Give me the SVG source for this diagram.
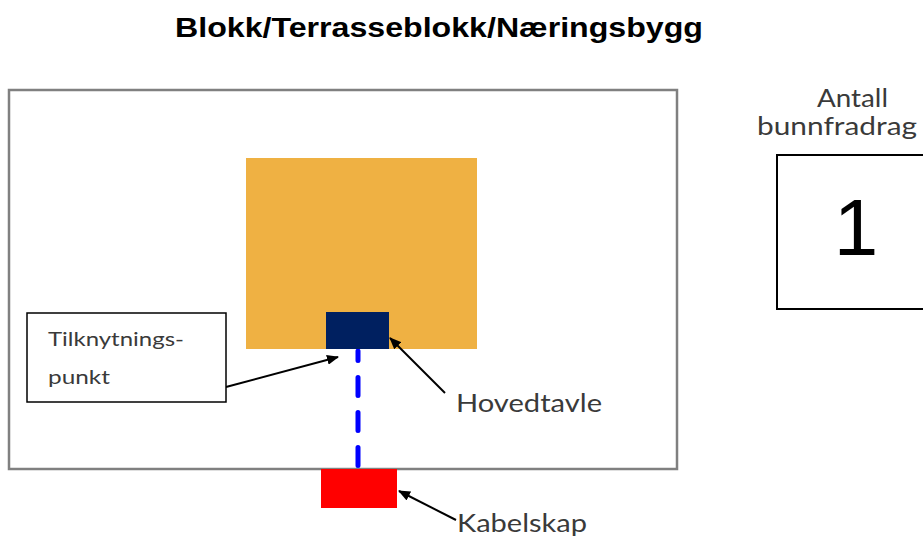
<svg xmlns="http://www.w3.org/2000/svg" width="923" height="539" viewBox="0 0 923 539">
<style>
.lbl{font-family:Lato,"Open Sans","Liberation Sans",sans-serif;fill:#3a3a3a}
.arr{stroke:#000;stroke-width:2;fill:none;marker-end:url(#ah)}
</style>
<defs>
<marker id="ah" viewBox="0 0 12 10" refX="11" refY="5" markerWidth="12" markerHeight="10" markerUnits="userSpaceOnUse" orient="auto">
<path d="M0,0 L12,5 L0,10 Z" fill="#000"/>
</marker>
</defs>
<rect width="923" height="539" fill="#fff"/>
<text x="175" y="37" font-family="Liberation Sans,Arial,sans-serif" font-weight="bold" font-size="28.5" textLength="528" lengthAdjust="spacingAndGlyphs" fill="#000">Blokk/Terrasseblokk/Næringsbygg</text>
<g id="building">
<rect x="9" y="90" width="668" height="379" fill="#fff" stroke="#808080" stroke-width="2.5"/>
</g>
<g id="house">
<rect x="246" y="158" width="231" height="191" fill="#EFB143"/>
</g>
<g id="connectors">
<line x1="358" y1="465.5" x2="358" y2="351" stroke="#0000FF" stroke-width="5" stroke-linecap="round" stroke-dasharray="18 17"/>
<line class="arr" x1="226" y1="387" x2="338" y2="357"/>
<line class="arr" x1="445" y1="393" x2="390" y2="338"/>
<line class="arr" x1="456" y1="520" x2="399" y2="491"/>
</g>
<g id="hovedtavle">
<rect x="326" y="312" width="63" height="37" fill="#002060"/>
<text class="lbl" x="456" y="412" font-size="25" textLength="146" lengthAdjust="spacingAndGlyphs">Hovedtavle</text>
</g>
<g id="kabelskap">
<rect x="321" y="469" width="76" height="39" fill="#FF0000"/>
<text class="lbl" x="457" y="532" font-size="25" textLength="130" lengthAdjust="spacingAndGlyphs">Kabelskap</text>
</g>
<g id="tilknytningspunkt">
<rect x="27" y="313" width="199" height="89" fill="#fff" stroke="#000" stroke-width="1.5"/>
<text class="lbl" x="48" y="346" font-size="20" textLength="136" lengthAdjust="spacingAndGlyphs">Tilknytnings-</text>
<text class="lbl" x="48" y="384" font-size="20" textLength="62" lengthAdjust="spacingAndGlyphs">punkt</text>
</g>
<g id="antall">
<text class="lbl" x="817" y="107" font-size="25" textLength="71" lengthAdjust="spacingAndGlyphs">Antall</text>
<text class="lbl" x="757" y="135" font-size="25" textLength="160" lengthAdjust="spacingAndGlyphs">bunnfradrag</text>
<rect x="777" y="155" width="160" height="154" fill="#fff" stroke="#000" stroke-width="2"/>
<text x="856" y="255" font-family="Liberation Sans,Arial,sans-serif" font-size="80" text-anchor="middle" fill="#000">1</text>
</g>
</svg>
